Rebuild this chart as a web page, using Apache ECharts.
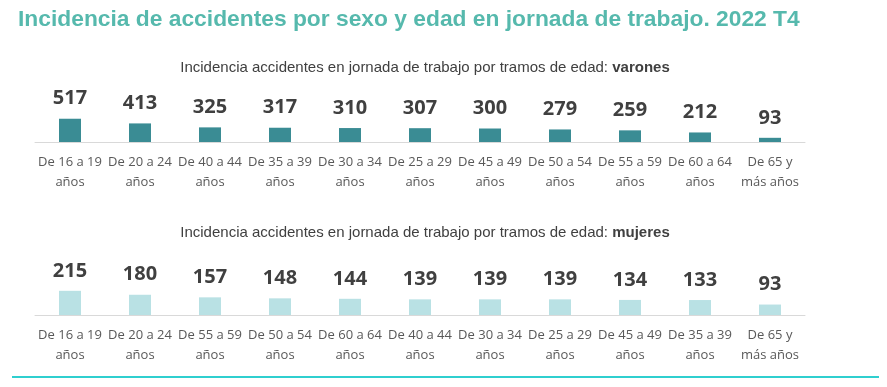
<!DOCTYPE html>
<html>
<head>
<meta charset="utf-8">
<script src="https://cdn.jsdelivr.net/npm/echarts@6/dist/echarts.min.js"></script>
<style>html,body{margin:0;padding:0;background:#fff;}#c{width:887px;height:387px;}</style>
</head>
<body>
<div id="c"></div>
<script>
const menCategories = ['De 16 a 19 años','De 20 a 24 años','De 40 a 44 años','De 35 a 39 años','De 30 a 34 años','De 25 a 29 años','De 45 a 49 años','De 50 a 54 años','De 55 a 59 años','De 60 a 64 años','De 65 y más años'];
const menValues = [517, 413, 325, 317, 310, 307, 300, 279, 259, 212, 93];
const womenCategories = ['De 16 a 19 años','De 20 a 24 años','De 55 a 59 años','De 50 a 54 años','De 60 a 64 años','De 40 a 44 años','De 30 a 34 años','De 25 a 29 años','De 45 a 49 años','De 35 a 39 años','De 65 y más años'];
const womenValues = [215, 180, 157, 148, 144, 139, 139, 139, 134, 133, 93];

function fmtCat(s) {
  if (s.indexOf('65 y') >= 0) return 'De 65 y\nmás años';
  return s.replace(' años', '\naños');
}

const chart = echarts.init(document.getElementById('c'), null, {renderer: 'canvas'});
const axisLabel = {interval: 0, color: '#595959', fontFamily: 'Open Sans', fontSize: 13, lineHeight: 20, margin: 10, formatter: fmtCat};
const barLabel = {show: true, position: 'top', distance: 10, color: '#404040', fontFamily: 'Open Sans', fontWeight: 'bold', fontSize: 20};
const subRich = {
  n: {color: '#404040', fontFamily: 'Liberation Sans', fontSize: 15, fontWeight: 'normal'},
  b: {color: '#404040', fontFamily: 'Liberation Sans', fontSize: 15, fontWeight: 'bold'}
};
chart.setOption({
  animation: false,
  title: [
    {text: 'Incidencia de accidentes por sexo y edad en jornada de trabajo. 2022 T4', left: 13, top: 3,
     textStyle: {color: '#56b9ad', fontFamily: 'Liberation Sans', fontWeight: 'bold', fontSize: 22.8}},
    {text: '{n|Incidencia accidentes en jornada de trabajo por tramos de edad: }{b|varones}', left: 420, top: 55, textAlign: 'center',
     textStyle: {fontWeight: 'normal', rich: subRich}},
    {text: '{n|Incidencia accidentes en jornada de trabajo por tramos de edad: }{b|mujeres}', left: 420, top: 220, textAlign: 'center',
     textStyle: {fontWeight: 'normal', rich: subRich}}
  ],
  grid: [
    {left: 35, width: 770, top: 97, height: 45},
    {left: 35, width: 770, top: 270, height: 45}
  ],
  xAxis: [
    {type: 'category', gridIndex: 0, data: menCategories, axisTick: {show: false}, axisLine: {lineStyle: {color: '#d9d9d9'}}, axisLabel: axisLabel},
    {type: 'category', gridIndex: 1, data: womenCategories, axisTick: {show: false}, axisLine: {lineStyle: {color: '#d9d9d9'}}, axisLabel: axisLabel}
  ],
  yAxis: [
    {type: 'value', gridIndex: 0, min: 0, max: 1000, show: false, splitLine: {show: false}},
    {type: 'value', gridIndex: 1, min: 0, max: 400, show: false, splitLine: {show: false}}
  ],
  series: [
    {type: 'bar', xAxisIndex: 0, yAxisIndex: 0, data: menValues, barWidth: 22, itemStyle: {color: '#3a8c94'}, label: barLabel},
    {type: 'bar', xAxisIndex: 1, yAxisIndex: 1, data: womenValues, barWidth: 22, itemStyle: {color: '#b9e1e4'}, label: barLabel}
  ],
  graphic: [
    {type: 'line', shape: {x1: 12, y1: 377, x2: 879, y2: 377}, style: {stroke: '#2fcfcf', lineWidth: 2}}
  ]
});
</script>
</body>
</html>
